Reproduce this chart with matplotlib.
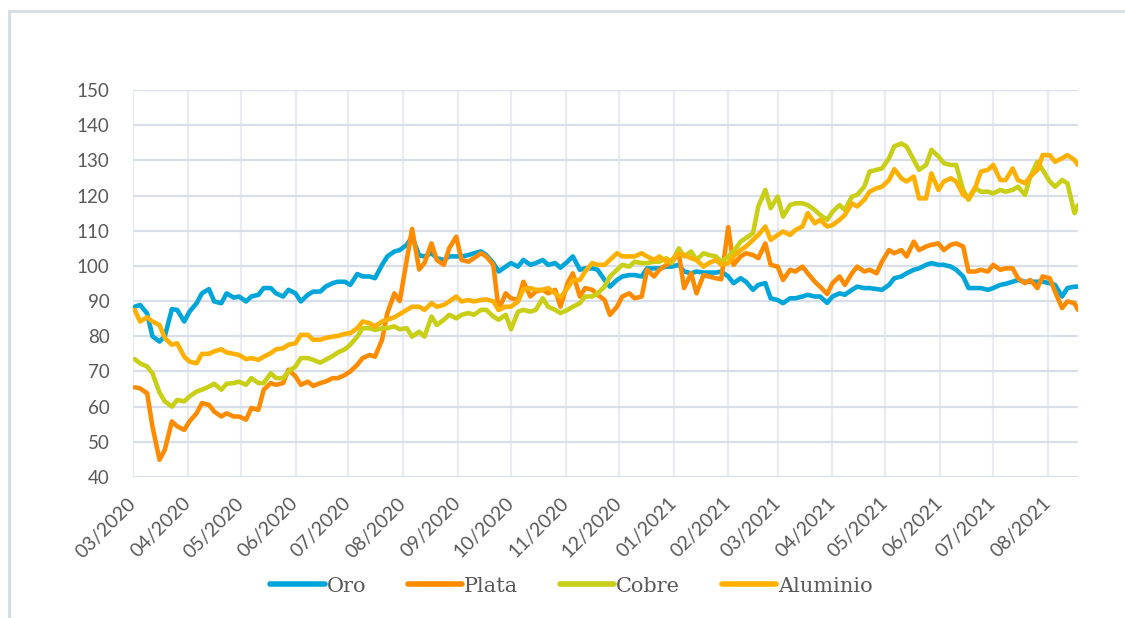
import numpy as np
import pandas as pd
import matplotlib.pyplot as plt
from matplotlib.lines import Line2D

# twice-weekly observations (Mon / Thu), last point on 18 Aug 2021
mondays = pd.date_range("2020-03-02", "2021-08-16", freq="W-MON")
thursdays = pd.date_range("2020-03-05", "2021-08-12", freq="W-THU")
dates = mondays.union(thursdays).append(pd.DatetimeIndex(["2021-08-18"]))

oro = [
    88.4, 88.9, 86.5, 80, 78.5, 80, 87.7, 87.5, 84.2, 87, 89.4, 92.2, 93.4, 89.9, 89.4, 92.2, 91,
    91.3, 89.9, 91.3, 91.8, 93.7, 93.7, 92.2, 91.3, 93.2, 92.2, 89.9, 91.8, 92.7, 92.7, 94.1, 95.1,
    95.5, 95.5, 94.6, 97.7, 97, 97, 96.5, 100.3, 102.7, 104.1, 104.5,
    106, 108.3, 103, 102.7, 103.6, 102.2, 101.7, 102.7, 102.7, 102.7, 103.1, 103.6, 104.1, 103.1,
    100.8, 98.4, 99.8, 100.8, 99.8, 101.7, 100.3, 100.8, 101.7, 100.3, 100.8, 99.5,
    101.2, 102.7, 98.9, 99.3, 99.3, 98.9, 96, 94.1, 96, 97, 97.4, 97.4, 97, 99.3, 99.3, 99.3,
    99.8, 99.8, 100.3, 98.4, 97.9, 98.4, 98.1, 98.1, 98.1,
    98.4, 97, 95.1, 96.5, 95.5, 93.2, 94.6, 95.1, 90.8, 90.3, 89.4, 90.8, 90.8, 91.3, 91.8, 91.3,
    91.3, 89.5, 91.3, 92.2, 91.8, 93.2, 94.1, 93.7, 93.7, 93.4, 93.2, 94.6, 96.5,
    97, 97.9, 98.9, 99.3, 100.3, 100.8, 100.3, 100.3, 99.8, 98.9, 97, 93.7, 93.7, 93.7, 93.2,
    93.7, 94.6, 94.9, 95.5, 96, 95.5, 95.5, 95.5, 95.5, 95.1, 94.6, 91.3, 93.7, 94.1, 94.1,
]

plata = [
    65.5, 65.2, 63.8, 54.4, 44.9, 47.7, 55.8, 54.4, 53.4, 55.8, 58.1, 61, 60.5, 58.6, 57.2, 58.1, 57.2,
    57.2, 56.3, 59.6, 59.1, 64.8, 66.7, 66.2, 66.7, 70.5, 68.6, 66.2, 67.1, 65.9, 66.7, 67.1, 68.1,
    68.1, 69, 70, 71.9, 73.8, 74.7, 74.2, 79, 86.6, 92.2, 90,
    101.7, 110.5, 99, 100.8, 106.4, 101.7, 100.3, 105, 108.3, 101.7, 101.2, 102.2, 103.6, 102.7,
    100.3, 87.5, 92.2, 90.8, 90.3, 95.5, 91.3, 92.7, 93.2, 92.2, 93.2, 88.4,
    95.1, 97.9, 91.3, 93.7, 93.2, 91.8, 90.3, 86.1, 88.4, 91.3, 92.2, 90.8, 91.3, 98.9, 97, 98.9,
    100.3, 101.2, 103.6, 93.7, 97.9, 92.2, 97.4, 97, 96.5,
    96.2, 111, 100.3, 102.7, 103.6, 103.1, 102.2, 106.4, 100.3, 99.8, 96, 98.9, 98.4, 99.8, 97.9,
    95.5, 94.1, 92, 95.1, 97, 94.6, 97.9, 99.8, 98.4, 98.9, 97.9, 101.2, 104.5, 103.6,
    104.5, 102.7, 106.9, 104.5, 105.5, 106, 106.4, 104.5, 106, 106.4, 105.5, 98.4, 98.4, 98.9, 98.4,
    100.3, 98.9, 99.3, 99.3, 96.5, 95.1, 96, 93.7, 97, 96.5, 92.7, 88, 89.9, 89.4, 87.5,
]

cobre = [
    73.5, 72.3, 71.4, 69.5, 64, 61.5, 60, 61.9, 61.5, 62.9, 64.3, 64.8, 65.7, 66.5, 64.8, 66.5, 66.7,
    67.1, 66.2, 68.1, 66.7, 66.7, 69.5, 68.1, 68.1, 70, 71.4, 73.8, 73.8, 73.3, 72.5, 73.3, 74.4,
    75.4, 76.3, 77.6, 79.9, 82.3, 82.3, 81.8, 82.3, 82.3, 82.8, 82,
    82.3, 79.9, 81.3, 79.9, 85.6, 83.2, 84.7, 86.1, 85.1, 86.1, 86.6, 86.1, 87.5, 87.5,
    85.6, 84.7, 86.1, 82, 87, 87.5, 87, 87.5, 90.8, 88.4, 87.5, 86.6,
    87.5, 88.4, 89.4, 91.3, 91.3, 92.2, 94.1, 97, 98.9, 100.3, 99.8, 101.2, 100.8, 100.8, 101.2,
    101.2, 102.2, 100.8, 105, 102.7, 104.1, 101.7, 103.6, 103.1, 102.7,
    101.2, 102.7, 104.1, 106.9, 107.9, 109.3, 116.9, 121.6, 116.4, 119.7, 114, 117.3, 117.8, 117.8,
    117.3, 115.9, 114.5, 113.1, 115.4, 117.3, 115.9, 119.7, 120.2, 122.5, 126.8, 127.3, 127.7,
    130.6, 134,
    134.8, 133.9, 130.1, 127.3, 128.7, 133, 131.1, 129.2, 128.7, 128.7, 121.6, 118.8, 122.1, 121.1,
    121.1, 120.6, 121.6, 121.1, 121.6, 122.5, 120.2, 125.4, 129.6, 127.3, 124, 122.5, 124.4, 123.5,
    115, 117.3,
]

aluminio = [
    87.5, 84.2, 85.4, 84.2, 83.2, 79.5, 77.6, 78, 74.2, 72.8, 72.3, 75, 75, 75.7, 76.3, 75.4, 75,
    74.7, 73.5, 73.8, 73.3, 74.2, 75.2, 76.3, 76.6, 77.6, 78, 80.4, 80.4, 79, 79, 79.5, 79.9,
    80.1, 80.7, 80.9, 82.3, 84.2, 83.7, 82.8, 84.2, 84.7, 85.4, 86.3,
    87.5, 88.4, 88.4, 87.5, 89.4, 88.4, 88.9, 89.9, 91.3, 89.9, 90.3, 89.9, 90.3, 90.5,
    89.9, 87.5, 88.4, 88.4, 89.9, 93.4, 93.7, 93.2, 93.2, 93.7, 92.2, 91,
    93.7, 96, 96, 98.4, 100.8, 100.3, 100.3, 101.7, 103.6, 102.7, 102.7, 102.7, 103.6, 102.7,
    101.7, 102.7, 101.2, 101.7, 103.6, 103.1, 102.2, 101.7, 99.8, 100.8, 101.7,
    100.3, 100.8, 102.7, 104.5, 105.5, 107.4, 108.8, 111.2, 107.4, 108.8, 109.8, 108.8, 110.2,
    111.2, 115, 112.1, 113.1, 111.2, 111.6, 113.1, 114.5, 117.8, 116.9, 118.8, 121.1, 122.1,
    122.5, 124.4, 127.5,
    124.9, 124, 125.4, 119.2, 119.2, 126.3, 121.6, 124, 124.9, 124, 120.2, 119.2, 122.5, 126.8,
    127.3, 128.7, 124.4, 124.4, 127.7, 124.4, 123.5, 125.4, 127.3, 131.5, 131.5, 129.6, 130.6,
    131.5, 130.1, 128.7,
]

df = pd.DataFrame(
    {"Oro": oro, "Plata": plata, "Cobre": cobre, "Aluminio": aluminio}, index=dates
)

colors = {
    "Oro": "#00A6DA",
    "Plata": "#FF8C00",
    "Cobre": "#C8CF16",
    "Aluminio": "#FFB000",
}

month_ticks = pd.date_range("2020-03-01", "2021-08-01", freq="MS")
tick_labels = [d.strftime("%m/%Y") for d in month_ticks]

text_color = "#595959"
grid_h = "#D9DEE8"
grid_v = "#E9ECF3"

fig = plt.figure(figsize=(11.25, 6.18), dpi=100)
ax = fig.add_axes([133 / 1125, 1 - 477 / 618, (1078 - 133) / 1125, (477 - 90) / 618])

for name in df.columns:
    ax.plot(df.index, df[name], color=colors[name], lw=3.3,
            solid_joinstyle="round", solid_capstyle="round", label=name)

ax.set_ylim(40, 150)
ax.set_yticks(np.arange(40, 151, 10))
ax.set_xlim(pd.Timestamp("2020-03-01"), pd.Timestamp("2021-08-18"))
ax.set_xticks(month_ticks)
ax.set_xticklabels(tick_labels, rotation=45, ha="right", va="center",
                   rotation_mode="anchor")

for s in ax.spines.values():
    s.set_visible(False)

ax.set_axisbelow(True)
ax.grid(axis="y", color=grid_h, lw=1.6)
ax.grid(axis="x", color=grid_v, lw=1.6)
ax.tick_params(axis="both", length=0, colors=text_color)
ax.tick_params(axis="y", pad=17, labelsize=13.5)
ax.tick_params(axis="x", pad=17, labelsize=14)
for lbl in ax.get_xticklabels() + ax.get_yticklabels():
    lbl.set_family("Lato")

handles = [Line2D([0], [0], color=colors[n], lw=4, solid_capstyle="round") for n in df.columns]
fig.legend(handles, list(df.columns), loc="center", bbox_to_anchor=(0.508, 1 - 586 / 618),
           ncol=4, frameon=False, handlelength=2.6, handletextpad=0.1, columnspacing=2.0,
           prop={"family": "DejaVu Serif", "size": 15}, labelcolor=text_color)

# thin frame around the chart area (top and left edges show)
fig.add_artist(Line2D([9 / 1125, 1], [1 - 11 / 618, 1 - 11 / 618],
                      transform=fig.transFigure, color="#D6DCE6", lw=2))
fig.add_artist(Line2D([9 / 1125, 9 / 1125], [0, 1 - 11 / 618],
                      transform=fig.transFigure, color="#D6DCE6", lw=2))

fig.savefig("out.png", dpi=100, facecolor="white")
